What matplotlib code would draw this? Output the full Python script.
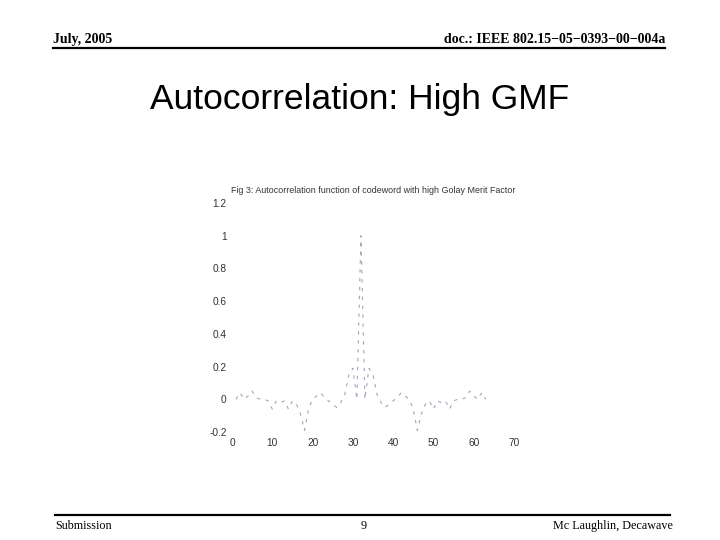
import matplotlib
matplotlib.use("Agg")
import matplotlib.pyplot as plt
from matplotlib.lines import Line2D
import numpy as np

# autocorrelation of the codeword (lag index 1..63, peak at 32)
lags = np.arange(1, 64)
acf = [0.0, 0.04, 0.0, 0.02, 0.05, 0.01, 0.0, 0.0, -0.01, -0.06,
       -0.01, -0.02, -0.01, -0.06, -0.01, -0.03, -0.09, -0.19, -0.06, 0.0,
       0.02, 0.04, 0.01, -0.01, -0.03, -0.05, -0.02, 0.03, 0.15, 0.19,
       0.0, 1.0, 0.0, 0.19, 0.15, 0.03, -0.02, -0.05, -0.03, -0.01,
       0.01, 0.04, 0.02, 0.0, -0.06, -0.19, -0.09, -0.03, -0.01, -0.06,
       -0.01, -0.02, -0.01, -0.06, -0.01, 0.0, 0.0, 0.01, 0.05, 0.02,
       0.0, 0.04, 0.0]

xticks = [0, 10, 20, 30, 40, 50, 60, 70]
yticks = [-0.2, 0, 0.2, 0.4, 0.6, 0.8, 1, 1.2]
ytick_labels = ["-0.2", "0", "0.2", "0.4", "0.6", "0.8", "1", "1.2"]

serif = "Liberation Serif"
sans = "Liberation Sans"

fig = plt.figure(figsize=(7.2, 5.4), dpi=100)
fig.patch.set_facecolor("white")

# slide header
fig.text(53/720, 1-43/540, "July, 2005", family=serif, weight="bold",
         fontsize=10, ha="left", va="baseline")
fig.text(665/720, 1-43/540, "doc.: IEEE 802.15\u221205\u22120393\u221200\u2212004a",
         family=serif, weight="bold", fontsize=10, ha="right", va="baseline")
fig.add_artist(Line2D([53/720, 665/720], [1-48/540, 1-48/540], color="black", lw=1.6))

fig.text(360/720, 1-100/540, "Autocorrelation: High GMF", family=sans,
         fontsize=25.5, ha="center", va="center")

# slide footer
fig.add_artist(Line2D([55/720, 670/720], [1-515/540, 1-515/540], color="black", lw=1.6))
fig.text(55/720, 1-526/540, "Submission", family=serif, fontsize=8.7,
         ha="left", va="center")
fig.text(364/720, 1-526/540, "9", family=serif, fontsize=8.7,
         ha="center", va="center")
fig.text(673/720, 1-526/540, "Mc Laughlin, Decawave", family=serif, fontsize=8.7,
         ha="right", va="center")

# the pasted matlab figure
ax = fig.add_axes([232/720, 1-432/540, 282/720, 229/540])
ax.plot(lags, acf, color="#a4a4bc", lw=0.8, linestyle=(0, (3, 5)))
ax.set_xlim(0, 70)
ax.set_ylim(-0.2, 1.2)
ax.set_xticks(xticks)
ax.set_xticklabels([str(t) for t in xticks])
ax.set_yticks(yticks)
ax.set_yticklabels(ytick_labels)
for s in ax.spines.values():
    s.set_visible(False)
ax.tick_params(axis="both", which="major", length=0, labelsize=7.3, pad=4,
               labelcolor="#333333")
ax.set_xticks([30, 50, 60], minor=True)
ax.set_yticks([0.4], minor=True)
ax.tick_params(axis="both", which="minor", direction="in", length=4,
               width=0.7, color="#777777", top=True, right=True)
for lab in ax.get_xticklabels() + ax.get_yticklabels():
    lab.set_family(sans)
ax.set_title("Fig 3: Autocorrelation function of codeword with high Golay Merit Factor",
             family=sans, fontsize=6.4, pad=7, color="#333333")

fig.savefig("out.png", dpi=100)
